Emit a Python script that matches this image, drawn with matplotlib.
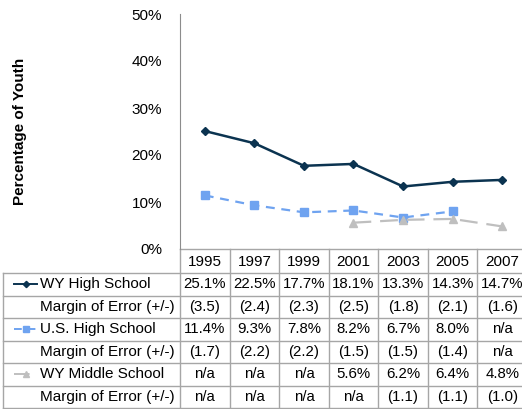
import numpy as np
import matplotlib
matplotlib.use("Agg")
import matplotlib.pyplot as plt
from matplotlib.transforms import blended_transform_factory

plt.rcParams["font.family"] = ["Liberation Sans", "DejaVu Sans"]

years = ["1995", "1997", "1999", "2001", "2003", "2005", "2007"]
wy_hs = [25.1, 22.5, 17.7, 18.1, 13.3, 14.3, 14.7]
wy_hs_moe = [3.5, 2.4, 2.3, 2.5, 1.8, 2.1, 1.6]
us_hs = [11.4, 9.3, 7.8, 8.2, 6.7, 8.0, None]
us_hs_moe = [1.7, 2.2, 2.2, 1.5, 1.5, 1.4, None]
wy_ms = [None, None, None, 5.6, 6.2, 6.4, 4.8]
wy_ms_moe = [None, None, None, None, 1.1, 1.1, 1.0]

W, H = 522, 409
fig = plt.figure(figsize=(W / 100, H / 100), dpi=100)
# axes in pixel coords: left 180, right 527, top 14, bottom 249
ax = fig.add_axes([180 / W, (H - 249) / H, (527 - 180) / W, (249 - 14) / H])

x = np.arange(len(years))
def arr(v):
    return np.array([np.nan if a is None else a for a in v], dtype=float)

series = [
    ("WY High School", wy_hs, wy_hs_moe, dict(color="#0B3350", lw=1.8, ls="-", marker="D", ms=4)),
    ("U.S. High School", us_hs, us_hs_moe, dict(color="#6FA3F0", lw=1.6, ls=(0, (4, 3)), marker="s", ms=6)),
    ("WY Middle School", wy_ms, wy_ms_moe, dict(color="#BFBFBF", lw=1.6, ls=(0, (8, 4)), marker="^", ms=6)),
]
for name, vals, moe, st in series:
    ax.plot(x, arr(vals), **st)

ax.set_xlim(-0.5, len(years) - 0.5)
ax.set_ylim(0, 50)
ax.set_yticks(range(0, 51, 10))
ax.set_yticklabels([f"{v}%" for v in range(0, 51, 10)])
ax.tick_params(axis="y", length=0, pad=13, labelsize=11)
ax.set_xticks([])
for s in ["top", "right", "bottom"]:
    ax.spines[s].set_visible(False)
ax.spines["left"].set_color("#8C8C8C")
ax.set_ylabel("Percentage of Youth", fontsize=11, fontweight="bold")
ax.yaxis.set_label_coords(-153 / 347, 0.5)

# data table below the axes
gc = "#A6A6A6"
ph = 235.0
hdr = 24 / ph
rh = 22.5 / ph
tr_data = blended_transform_factory(ax.transData, ax.transAxes)
tr_fig = blended_transform_factory(fig.transFigure, ax.transAxes)
lab_l = 3 / W

def fmt_pct(v):
    return "n/a" if v is None else f"{v:.1f}%"
def fmt_moe(v):
    return "n/a" if v is None else f"({v:.1f})"

rows = []
for name, vals, moe, st in series:
    rows.append((name, [fmt_pct(v) for v in vals], st))
    rows.append(("Margin of Error (+/-)", [fmt_moe(v) for v in moe], None))

n = len(rows)
y_bottom = -hdr - n * rh
# horizontal lines
ax.plot([-0.5, len(years) - 0.5], [0, 0], color=gc, lw=1, transform=tr_data, clip_on=False)
for i in range(n + 1):
    yy = -hdr - i * rh
    ax.plot([lab_l, 1.01], [yy, yy], color=gc, lw=1, transform=tr_fig, clip_on=False)
# vertical lines
for k in range(len(years) + 1):
    ax.plot([k - 0.5, k - 0.5], [0, y_bottom], color=gc, lw=1, transform=tr_data, clip_on=False)
ax.plot([lab_l, lab_l], [-hdr, y_bottom], color=gc, lw=1, transform=tr_fig, clip_on=False)

# header
for k, yr in enumerate(years):
    ax.text(k, -hdr / 2 - 0.004, yr, ha="center", va="center", fontsize=11, transform=tr_data)
# rows
for i, (name, cells, st) in enumerate(rows):
    yc = -hdr - (i + 0.5) * rh
    ax.text(40 / W, yc, name, ha="left", va="center", fontsize=11, transform=tr_fig)
    if st is not None:
        ax.plot([14 / W, 37 / W], [yc, yc], color=st["color"], lw=1.4, ls=st["ls"],
                transform=tr_fig, clip_on=False)
        ax.plot([25.5 / W], [yc], color=st["color"], marker=st["marker"], ms=st["ms"] * 0.8,
                transform=tr_fig, clip_on=False)
    for k, c in enumerate(cells):
        ax.text(k, yc, c, ha="center", va="center", fontsize=10.8, transform=tr_data)

fig.savefig("out.png", dpi=100)
